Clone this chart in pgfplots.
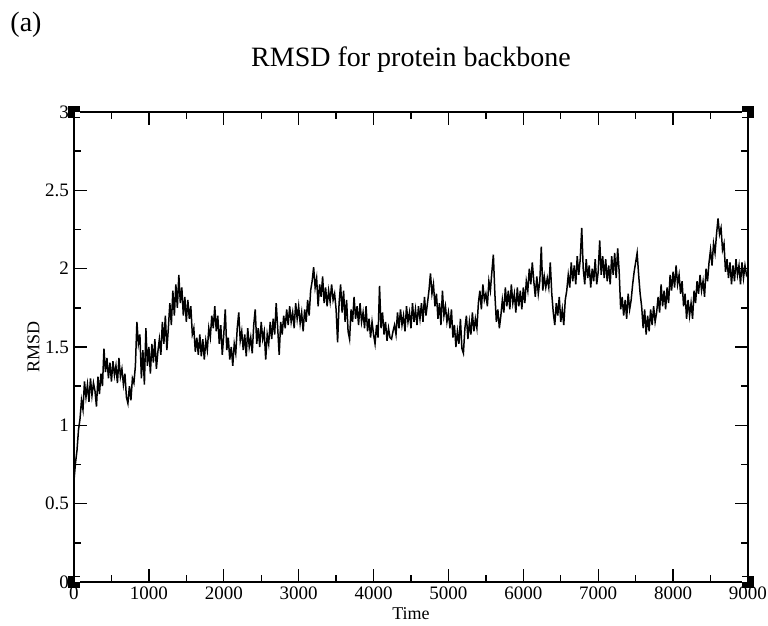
\documentclass[border=0pt]{standalone}
\usepackage{fontspec}
\setmainfont{Liberation Serif}
\usepackage{pgfplots}
\usepackage{pgfplotstable}
\pgfplotsset{compat=1.18}
\pgfplotstableread[row sep=\\]{
t v\\
0 0.65\\ 20 0.76\\ 40 0.84\\ 60 0.97\\ 80 1.04\\ 100 1.16\\ 120 1.10\\ 140 1.28\\ 160 1.18\\ 180 1.26\\ 200 1.15\\ 220 1.30\\ 240 1.19\\ 260 1.27\\ 280 1.22\\ 300 1.12\\ 320 1.31\\ 340 1.20\\ 360 1.33\\ 380 1.25\\ 400 1.49\\ 420 1.34\\ 440 1.43\\ 460 1.30\\ 480 1.40\\
500 1.28\\ 520 1.41\\ 540 1.32\\ 560 1.38\\ 580 1.27\\ 600 1.43\\ 620 1.31\\ 640 1.36\\ 660 1.26\\ 680 1.33\\ 700 1.18\\ 720 1.14\\ 740 1.25\\ 760 1.16\\ 780 1.30\\ 800 1.27\\ 820 1.38\\ 840 1.66\\ 860 1.52\\ 880 1.58\\ 900 1.30\\ 920 1.48\\ 940 1.26\\ 960 1.62\\ 980 1.38\\
1000 1.50\\ 1020 1.33\\ 1040 1.52\\ 1060 1.40\\ 1080 1.55\\ 1100 1.36\\ 1120 1.47\\ 1140 1.55\\ 1160 1.45\\ 1180 1.66\\ 1200 1.52\\ 1220 1.70\\ 1240 1.48\\ 1260 1.62\\ 1280 1.78\\ 1300 1.64\\ 1320 1.86\\ 1340 1.70\\ 1360 1.90\\ 1380 1.75\\ 1400 1.96\\ 1420 1.78\\ 1440 1.88\\ 1460 1.70\\ 1480 1.82\\
1500 1.66\\ 1520 1.80\\ 1540 1.68\\ 1560 1.76\\ 1580 1.58\\ 1600 1.62\\ 1620 1.47\\ 1640 1.56\\ 1660 1.45\\ 1680 1.58\\ 1700 1.44\\ 1720 1.55\\ 1740 1.42\\ 1760 1.54\\ 1780 1.48\\ 1800 1.62\\ 1820 1.56\\ 1840 1.70\\ 1860 1.62\\ 1880 1.76\\ 1900 1.60\\ 1920 1.70\\ 1940 1.52\\ 1960 1.64\\ 1980 1.45\\
2000 1.58\\ 2020 1.74\\ 2040 1.48\\ 2060 1.56\\ 2080 1.42\\ 2100 1.50\\ 2120 1.38\\ 2140 1.52\\ 2160 1.46\\ 2180 1.62\\ 2200 1.72\\ 2220 1.54\\ 2240 1.60\\ 2260 1.48\\ 2280 1.58\\ 2300 1.44\\ 2320 1.62\\ 2340 1.50\\ 2360 1.56\\ 2380 1.46\\ 2400 1.64\\ 2420 1.74\\ 2440 1.52\\ 2460 1.62\\ 2480 1.50\\
2500 1.66\\ 2520 1.55\\ 2540 1.60\\ 2560 1.42\\ 2580 1.58\\ 2600 1.52\\ 2620 1.66\\ 2640 1.55\\ 2660 1.68\\ 2680 1.58\\ 2700 1.78\\ 2720 1.62\\ 2740 1.45\\ 2760 1.66\\ 2780 1.58\\ 2800 1.70\\ 2820 1.62\\ 2840 1.74\\ 2860 1.64\\ 2880 1.76\\ 2900 1.66\\ 2920 1.72\\ 2940 1.62\\ 2960 1.78\\ 2980 1.68\\
3000 1.76\\ 3020 1.65\\ 3040 1.72\\ 3060 1.60\\ 3080 1.74\\ 3100 1.66\\ 3120 1.80\\ 3140 1.70\\ 3160 1.86\\ 3180 1.92\\ 3200 2.01\\ 3220 1.88\\ 3240 1.94\\ 3260 1.76\\ 3280 1.90\\ 3300 1.82\\ 3320 1.95\\ 3340 1.78\\ 3360 1.88\\ 3380 1.76\\ 3400 1.86\\ 3420 1.79\\ 3440 1.90\\ 3460 1.80\\ 3480 1.84\\
3500 1.74\\ 3520 1.53\\ 3540 1.78\\ 3560 1.90\\ 3580 1.72\\ 3600 1.86\\ 3620 1.66\\ 3640 1.80\\ 3660 1.60\\ 3680 1.55\\ 3700 1.74\\ 3720 1.66\\ 3740 1.82\\ 3760 1.68\\ 3780 1.76\\ 3800 1.64\\ 3820 1.78\\ 3840 1.66\\ 3860 1.72\\ 3880 1.62\\ 3900 1.76\\ 3920 1.60\\ 3940 1.68\\ 3960 1.56\\ 3980 1.66\\
4000 1.58\\ 4020 1.52\\ 4040 1.64\\ 4060 1.56\\ 4080 1.89\\ 4100 1.62\\ 4120 1.72\\ 4140 1.58\\ 4160 1.66\\ 4180 1.54\\ 4200 1.62\\ 4220 1.56\\ 4240 1.55\\ 4260 1.60\\ 4280 1.64\\ 4300 1.58\\ 4320 1.72\\ 4340 1.62\\ 4360 1.74\\ 4380 1.64\\ 4400 1.70\\ 4420 1.60\\ 4440 1.76\\ 4460 1.66\\ 4480 1.72\\
4500 1.62\\ 4520 1.78\\ 4540 1.66\\ 4560 1.74\\ 4580 1.64\\ 4600 1.76\\ 4620 1.68\\ 4640 1.78\\ 4660 1.66\\ 4680 1.82\\ 4700 1.70\\ 4720 1.78\\ 4740 1.86\\ 4760 1.97\\ 4780 1.84\\ 4800 1.90\\ 4820 1.76\\ 4840 1.84\\ 4860 1.68\\ 4880 1.78\\ 4900 1.64\\ 4920 1.86\\ 4940 1.70\\ 4960 1.76\\ 4980 1.66\\
5000 1.72\\ 5020 1.62\\ 5040 1.74\\ 5060 1.56\\ 5080 1.64\\ 5100 1.50\\ 5120 1.60\\ 5140 1.52\\ 5160 1.68\\ 5180 1.49\\ 5200 1.46\\ 5220 1.62\\ 5240 1.70\\ 5260 1.55\\ 5280 1.66\\ 5300 1.58\\ 5320 1.72\\ 5340 1.60\\ 5360 1.68\\ 5380 1.62\\ 5400 1.78\\ 5420 1.86\\ 5440 1.74\\ 5460 1.90\\ 5480 1.80\\
5500 1.84\\ 5520 1.76\\ 5540 1.92\\ 5560 1.86\\ 5580 1.98\\ 5600 2.09\\ 5620 1.84\\ 5640 1.66\\ 5660 1.74\\ 5680 1.62\\ 5700 1.70\\ 5720 1.80\\ 5740 1.72\\ 5760 1.88\\ 5780 1.76\\ 5800 1.86\\ 5820 1.74\\ 5840 1.90\\ 5860 1.78\\ 5880 1.84\\ 5900 1.72\\ 5920 1.88\\ 5940 1.76\\ 5960 1.86\\ 5980 1.74\\
6000 1.88\\ 6020 1.78\\ 6040 1.92\\ 6060 1.86\\ 6080 2.00\\ 6100 1.90\\ 6120 2.04\\ 6140 1.92\\ 6160 1.82\\ 6180 1.95\\ 6200 1.84\\ 6220 1.92\\ 6240 2.14\\ 6260 1.86\\ 6280 1.95\\ 6300 1.88\\ 6320 1.94\\ 6340 1.88\\ 6360 2.04\\ 6380 1.84\\ 6400 1.72\\ 6420 1.64\\ 6440 1.78\\ 6460 1.70\\ 6480 1.82\\
6500 1.66\\ 6520 1.74\\ 6540 1.64\\ 6560 1.80\\ 6580 1.86\\ 6600 1.96\\ 6620 1.88\\ 6640 2.04\\ 6660 1.92\\ 6680 2.02\\ 6700 1.90\\ 6720 2.08\\ 6740 1.96\\ 6760 2.06\\ 6780 2.26\\ 6800 2.00\\ 6820 1.90\\ 6840 2.06\\ 6860 1.94\\ 6880 2.02\\ 6900 1.88\\ 6920 2.00\\ 6940 1.92\\ 6960 2.06\\ 6980 1.90\\
7000 1.98\\ 7020 2.18\\ 7040 1.96\\ 7060 2.08\\ 7080 1.94\\ 7100 2.06\\ 7120 1.92\\ 7140 2.02\\ 7160 1.90\\ 7180 2.08\\ 7200 1.96\\ 7220 2.10\\ 7240 1.94\\ 7260 2.13\\ 7280 1.98\\ 7300 1.74\\ 7320 1.82\\ 7340 1.70\\ 7360 1.80\\ 7380 1.68\\ 7400 1.84\\ 7420 1.74\\ 7440 1.80\\ 7460 1.90\\ 7480 1.98\\
7500 2.04\\ 7520 2.10\\ 7540 1.96\\ 7560 1.84\\ 7580 1.76\\ 7600 1.62\\ 7620 1.74\\ 7640 1.58\\ 7660 1.70\\ 7680 1.60\\ 7700 1.74\\ 7720 1.64\\ 7740 1.76\\ 7760 1.66\\ 7780 1.72\\ 7800 1.82\\ 7820 1.72\\ 7840 1.90\\ 7860 1.76\\ 7880 1.86\\ 7900 1.74\\ 7920 1.88\\ 7940 1.78\\ 7960 1.96\\ 7980 1.86\\
8000 1.98\\ 8020 1.88\\ 8040 2.02\\ 8060 1.90\\ 8080 1.96\\ 8100 1.84\\ 8120 1.92\\ 8140 1.76\\ 8160 1.84\\ 8180 1.68\\ 8200 1.80\\ 8220 1.70\\ 8240 1.78\\ 8260 1.68\\ 8280 1.86\\ 8300 1.78\\ 8320 1.92\\ 8340 1.84\\ 8360 1.96\\ 8380 1.86\\ 8400 1.92\\ 8420 1.82\\ 8440 2.00\\ 8460 1.92\\ 8480 2.04\\
8500 2.12\\ 8520 2.02\\ 8540 2.16\\ 8560 2.10\\ 8580 2.22\\ 8600 2.32\\ 8620 2.22\\ 8640 2.26\\ 8660 2.12\\ 8680 2.16\\ 8700 1.98\\ 8720 2.06\\ 8740 1.94\\ 8760 2.04\\ 8780 1.90\\ 8800 2.02\\ 8820 1.92\\ 8840 2.06\\ 8860 1.96\\ 8880 2.02\\ 8900 1.90\\ 8920 2.04\\ 8940 1.94\\ 8960 2.02\\ 8980 1.96\\ 9000 1.98\\
}\rmsd
\begin{document}
\begin{tikzpicture}
\useasboundingbox (0,0) rectangle (384pt,313pt);
\node[font=\fontsize{14}{16}\selectfont] at (13pt,300.5pt) {(a)};
\node[font=\fontsize{14}{16}\selectfont] at (205.5pt,283pt) {RMSD for protein backbone};
\begin{axis}[
  at={(37pt,22pt)}, anchor=south west,
  scale only axis, width=337pt, height=235pt,
  xmin=0, xmax=9000, ymin=0, ymax=3,
  clip=false,
  axis line style={line width=0.7pt},
  tick style={line width=0.7pt, black},
  tick align=inside,
  major tick length=6.5pt, minor tick length=3.5pt,
  xtick={0,1000,...,9000}, minor x tick num=1,
  ytick={0,0.5,1,1.5,2,2.5,3}, minor y tick num=1,
  /pgf/number format/1000 sep={},
  /pgf/number format/assume math mode=true,
  ticklabel style={font=\fontsize{9.5}{11}\selectfont},
  xticklabel style={yshift=1pt},
  yticklabel style={xshift=1pt},
  xlabel={Time}, ylabel={RMSD},
  label style={font=\fontsize{9}{10}\selectfont},
  xlabel style={yshift=3pt},
  ylabel style={yshift=-4pt},
]
\addplot[black, line width=0.75pt] table[x=t, y=v] {\rmsd};
\addplot[only marks, mark=square*, mark size=2.75pt, black] coordinates {(0,0) (9000,0) (0,3) (9000,3)};
\addplot[only marks, mark=square*, mark size=1pt, white] coordinates {(47,0.016) (8953,0.016) (47,2.984) (8953,2.984)};
\end{axis}
\end{tikzpicture}
\end{document}
